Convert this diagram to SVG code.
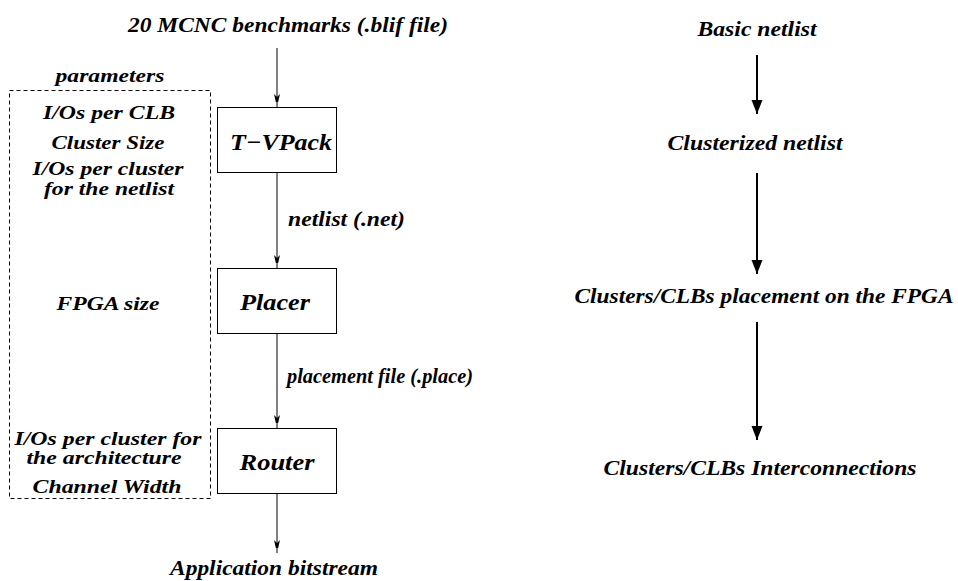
<svg xmlns="http://www.w3.org/2000/svg" width="958" height="581" viewBox="0 0 958 581">
<style>
text{font-family:"Liberation Serif","Times New Roman",serif;font-weight:bold;font-style:italic;fill:#000;text-anchor:middle}
.t{font-size:21px}
.p{font-size:19px}
.q{font-size:18px}
.b{font-size:23px}
.box{fill:#fff;stroke:#000;stroke-width:1}
.thin{stroke:#000;stroke-width:1;fill:none}
.thick{stroke:#000;stroke-width:2;fill:none}
</style>
<defs>
<marker id="ah" markerWidth="8" markerHeight="14" refX="13" refY="3.5" orient="auto" markerUnits="userSpaceOnUse">
<path d="M0,0.5 L13,3.5 L0,6.5 L3,3.5 Z" fill="#000"/>
</marker>
<marker id="ah2" markerWidth="15" markerHeight="12" refX="14" refY="6" orient="auto" markerUnits="userSpaceOnUse">
<path d="M0,0.5 L14,6 L0,11.5 Z" fill="#000"/>
</marker>
</defs>
<g id="params">
<rect x="9.5" y="90.5" width="201" height="408" fill="none" stroke="#000" stroke-width="1" stroke-dasharray="4,3"/>
<text class="p" x="110" y="82" textLength="109" lengthAdjust="spacingAndGlyphs">parameters</text>
<text class="p" x="109" y="119" textLength="132" lengthAdjust="spacingAndGlyphs">I/Os per CLB</text>
<text class="p" x="108" y="149" textLength="113" lengthAdjust="spacingAndGlyphs">Cluster Size</text>
<text class="q" x="108" y="175" textLength="151" lengthAdjust="spacingAndGlyphs">I/Os per cluster</text>
<text class="q" x="109" y="195" textLength="130" lengthAdjust="spacingAndGlyphs">for the netlist</text>
<text class="p" x="108" y="310" textLength="103" lengthAdjust="spacingAndGlyphs">FPGA size</text>
<text class="q" x="108" y="445" textLength="187" lengthAdjust="spacingAndGlyphs">I/Os per cluster for</text>
<text class="q" x="104" y="464" textLength="155" lengthAdjust="spacingAndGlyphs">the architecture</text>
<text class="p" x="107" y="493" textLength="149" lengthAdjust="spacingAndGlyphs">Channel Width</text>
</g>
<g id="input"><text class="t" x="288" y="32" textLength="320" lengthAdjust="spacingAndGlyphs">20 MCNC benchmarks (.blif file)</text></g>
<g id="tvpack"><rect class="box" x="217.5" y="107.5" width="119" height="65"/><text class="b" x="281" y="150" textLength="102" lengthAdjust="spacingAndGlyphs">T−VPack</text></g>
<g id="placer"><rect class="box" x="217.5" y="268.5" width="119" height="65"/><text class="b" x="275" y="310" textLength="70" lengthAdjust="spacingAndGlyphs">Placer</text></g>
<g id="router"><rect class="box" x="217.5" y="428.5" width="119" height="65"/><text class="b" x="277" y="470" textLength="75" lengthAdjust="spacingAndGlyphs">Router</text></g>
<g id="output"><text class="t" x="274" y="575" textLength="208" lengthAdjust="spacingAndGlyphs">Application bitstream</text></g>
<g id="r1"><text class="t" x="757" y="36" textLength="119" lengthAdjust="spacingAndGlyphs">Basic netlist</text></g>
<g id="r2"><text class="t" x="755" y="150" textLength="175" lengthAdjust="spacingAndGlyphs">Clusterized netlist</text></g>
<g id="r3"><text class="t" x="764" y="303" textLength="379" lengthAdjust="spacingAndGlyphs">Clusters/CLBs placement on the FPGA</text></g>
<g id="r4"><text class="t" x="760" y="475" textLength="313" lengthAdjust="spacingAndGlyphs">Clusters/CLBs Interconnections</text></g>
<g id="connectors">
<line class="thin" x1="277" y1="48" x2="277" y2="107" marker-end="url(#ah)"/>
<line class="thin" x1="277" y1="173" x2="277" y2="268" marker-end="url(#ah)"/>
<line class="thin" x1="277" y1="334" x2="277" y2="428" marker-end="url(#ah)"/>
<line class="thin" x1="277" y1="494" x2="277" y2="553" marker-end="url(#ah)"/>
<line class="thick" x1="757" y1="55" x2="757" y2="114" marker-end="url(#ah2)"/>
<line class="thick" x1="757" y1="173" x2="757" y2="274" marker-end="url(#ah2)"/>
<line class="thick" x1="757" y1="322" x2="757" y2="440" marker-end="url(#ah2)"/>
<text class="t" x="288" y="226" style="text-anchor:start" textLength="117" lengthAdjust="spacingAndGlyphs">netlist (.net)</text>
<text class="t" x="287" y="383" style="text-anchor:start" textLength="186" lengthAdjust="spacingAndGlyphs">placement file (.place)</text>
</g>
</svg>
